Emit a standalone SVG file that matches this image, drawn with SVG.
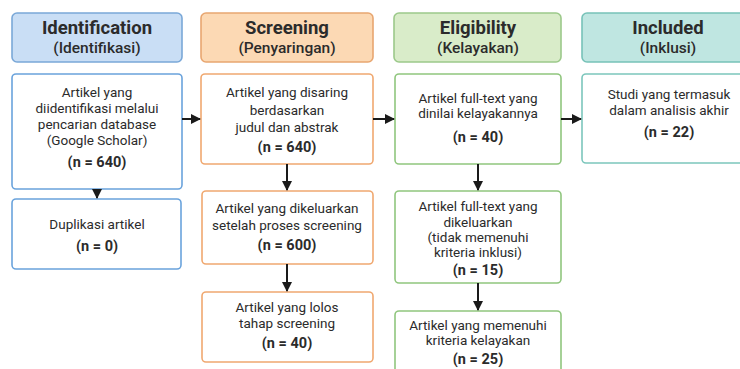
<svg xmlns="http://www.w3.org/2000/svg" width="740" height="369" viewBox="0 0 740 369">
<defs>
<marker id="ah" viewBox="0 0 10 10" refX="9" refY="5" markerWidth="5" markerHeight="5" orient="auto" markerUnits="strokeWidth">
<path d="M0,0 L10,5 L0,10 z" fill="#1a1a1a"/>
</marker>
<style>
.t{font-family:Roboto,"Noto Sans",sans-serif;text-anchor:middle;fill:#2b2b2b}
.h1{font-size:18.5px;font-weight:700}
.h2{font-size:15.5px;font-weight:500}
.b{font-size:13.5px}
.n{font-size:14.5px;font-weight:700}
.hb{fill:#c9def5;stroke:#7aa8d8}
.ho{fill:#fcd9b4;stroke:#e8a670}
.hg{fill:#d9ecc9;stroke:#9cc98a}
.ht{fill:#bfe6e1;stroke:#77c2b8}
.nb{fill:#fff;stroke:#6aa3dc}
.no{fill:#fff;stroke:#f0a870}
.ng{fill:#fff;stroke:#90c67e}
.nt{fill:#fff;stroke:#7cc6bc}
rect{stroke-width:1.6}
.c{stroke:#1a1a1a;stroke-width:2;fill:none;marker-end:url(#ah)}
</style>
</defs>
<rect width="740" height="369" fill="#fff"/>

<g id="hdr-identification">
<rect class="hb" x="12" y="13" width="170" height="49" rx="5"/>
<text class="t h1" x="97" y="34">Identification</text>
<text class="t h2" x="97" y="53">(Identifikasi)</text>
</g>
<g id="hdr-screening">
<rect class="ho" x="201" y="13" width="172" height="49" rx="5"/>
<text class="t h1" x="287" y="34">Screening</text>
<text class="t h2" x="287" y="53">(Penyaringan)</text>
</g>
<g id="hdr-eligibility">
<rect class="hg" x="394" y="13" width="167" height="49" rx="5"/>
<text class="t h1" x="478" y="34">Eligibility</text>
<text class="t h2" x="478" y="53">(Kelayakan)</text>
</g>
<g id="hdr-included">
<rect class="ht" x="582" y="13" width="172" height="49" rx="5"/>
<text class="t h1" x="668" y="34">Included</text>
<text class="t h2" x="668" y="53">(Inklusi)</text>
</g>

<g id="n-identified">
<rect class="nb" x="12" y="74" width="170" height="115" rx="4"/>
<text class="t b" x="97" y="97">Artikel yang</text>
<text class="t b" x="97" y="113">diidentifikasi melalui</text>
<text class="t b" x="97" y="129">pencarian database</text>
<text class="t b" x="97" y="145">(Google Scholar)</text>
<text class="t n" x="97" y="167">(n = 640)</text>
</g>
<g id="n-duplicates">
<rect class="nb" x="12" y="199" width="169" height="70" rx="4"/>
<text class="t b" x="97" y="229">Duplikasi artikel</text>
<text class="t n" x="97" y="251">(n = 0)</text>
</g>

<g id="n-screened">
<rect class="no" x="201" y="74" width="172" height="90" rx="4"/>
<text class="t b" x="287" y="97">Artikel yang disaring</text>
<text class="t b" x="287" y="115">berdasarkan</text>
<text class="t b" x="287" y="132">judul dan abstrak</text>
<text class="t n" x="287" y="152">(n = 640)</text>
</g>
<g id="n-excluded-screening">
<rect class="no" x="202" y="191" width="171" height="73" rx="4"/>
<text class="t b" x="287" y="213">Artikel yang dikeluarkan</text>
<text class="t b" x="287" y="230">setelah proses screening</text>
<text class="t n" x="287" y="250">(n = 600)</text>
</g>
<g id="n-passed-screening">
<rect class="no" x="202" y="292" width="171" height="70" rx="4"/>
<text class="t b" x="287" y="312">Artikel yang lolos</text>
<text class="t b" x="287" y="328">tahap screening</text>
<text class="t n" x="287" y="348">(n = 40)</text>
</g>

<g id="n-fulltext">
<rect class="ng" x="395" y="74" width="166" height="90" rx="4"/>
<text class="t b" x="478" y="103">Artikel full-text yang</text>
<text class="t b" x="478" y="118">dinilai kelayakannya</text>
<text class="t n" x="478" y="142">(n = 40)</text>
</g>
<g id="n-fulltext-excluded">
<rect class="ng" x="395" y="191" width="166" height="92" rx="4"/>
<text class="t b" x="478" y="211">Artikel full-text yang</text>
<text class="t b" x="478" y="227">dikeluarkan</text>
<text class="t b" x="478" y="242">(tidak memenuhi</text>
<text class="t b" x="478" y="257">kriteria inklusi)</text>
<text class="t n" x="478" y="275">(n = 15)</text>
</g>
<g id="n-eligible">
<rect class="ng" x="395" y="311" width="166" height="70" rx="4"/>
<text class="t b" x="478" y="330">Artikel yang memenuhi</text>
<text class="t b" x="478" y="345">kriteria kelayakan</text>
<text class="t n" x="478" y="364">(n = 25)</text>
</g>

<g id="n-included">
<rect class="nt" x="582" y="74" width="172" height="89" rx="4"/>
<text class="t b" x="669" y="99">Studi yang termasuk</text>
<text class="t b" x="669" y="115">dalam analisis akhir</text>
<text class="t n" x="669" y="137">(n = 22)</text>
</g>

<g id="connectors">
<line class="c" x1="182" y1="119" x2="200" y2="119"/>
<line class="c" x1="373" y1="119" x2="394" y2="119"/>
<line class="c" x1="561" y1="119" x2="581" y2="119"/>
<line class="c" x1="97" y1="189" x2="97" y2="198"/>
<line class="c" x1="287" y1="164" x2="287" y2="190"/>
<line class="c" x1="287" y1="264" x2="287" y2="291"/>
<line class="c" x1="478" y1="164" x2="478" y2="190"/>
<line class="c" x1="478" y1="283" x2="478" y2="310"/>
</g>
</svg>
